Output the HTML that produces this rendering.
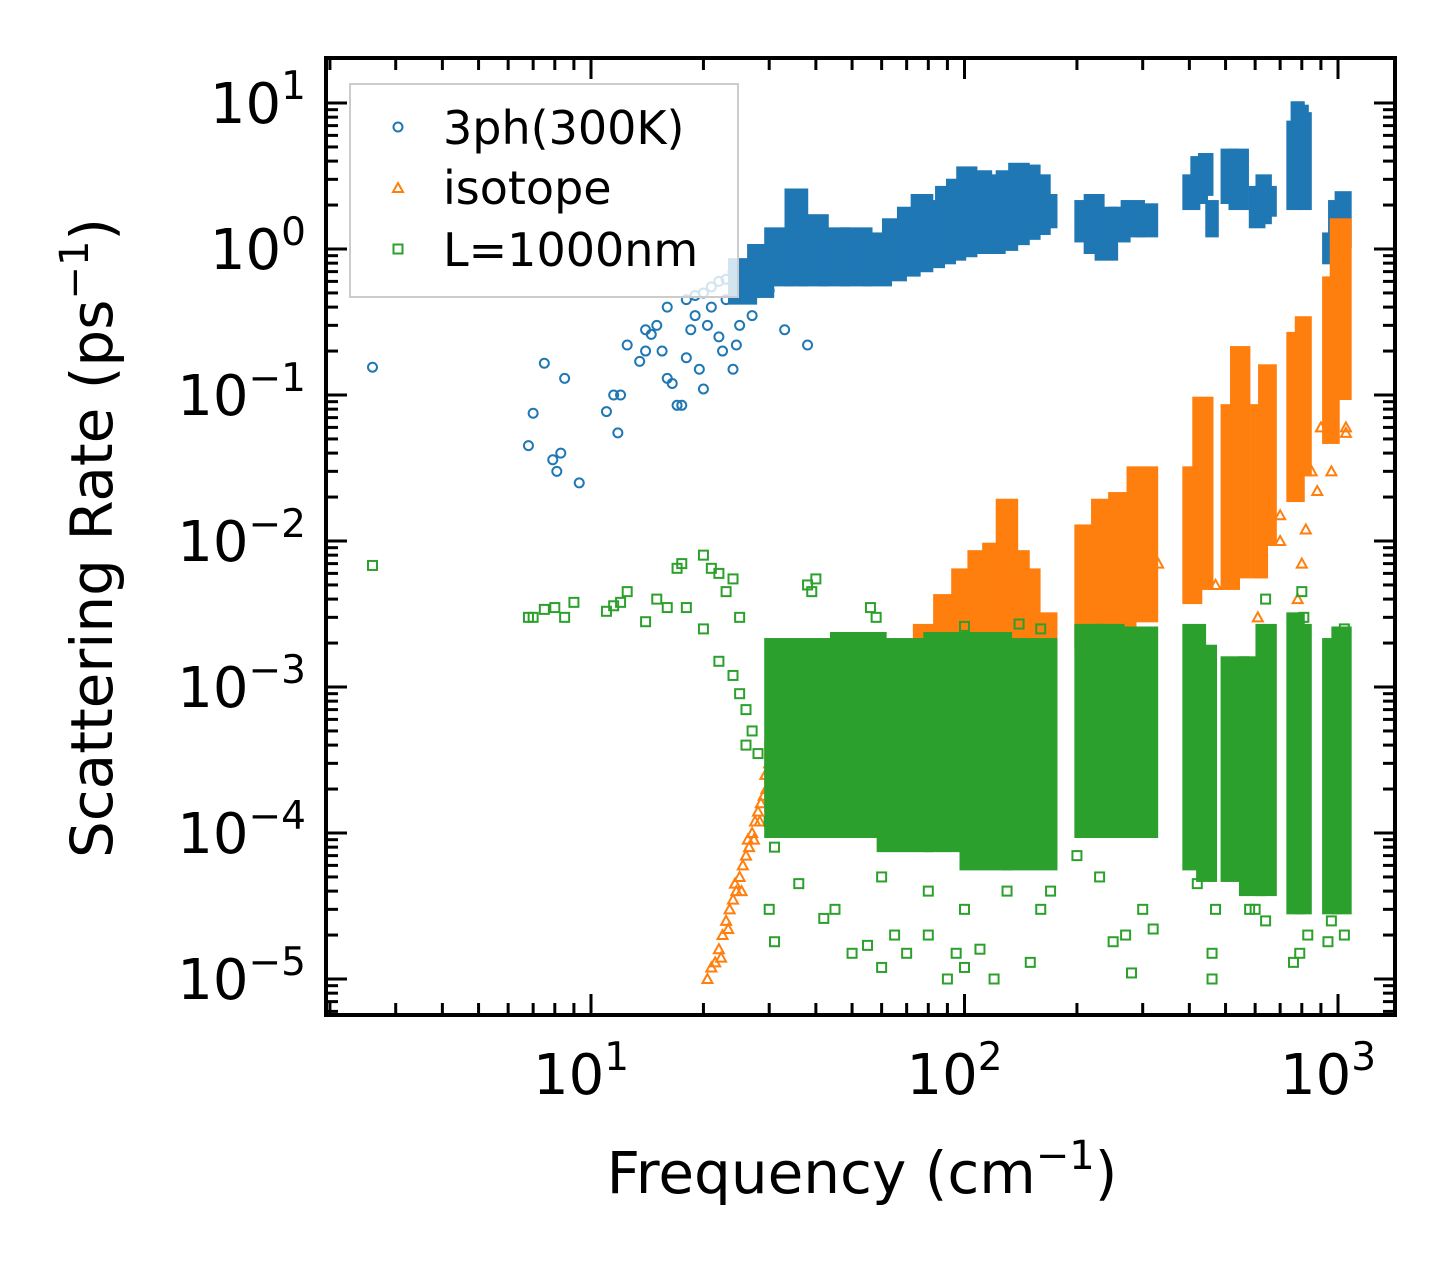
<!DOCTYPE html>
<html><head><meta charset="utf-8"><style>
body{margin:0;background:#fff}
svg text{font-family:"DejaVu Sans","Liberation Sans",sans-serif;fill:#000}
</style></head><body>
<svg id="chart" width="1455" height="1265" xmlns="http://www.w3.org/2000/svg" style="position:absolute;left:0;top:0">
<g id="marks"></g>
<g id="axes"></g>
</svg>
<script>
// ---- data (frequency cm^-1, rate ps^-1) ----
const blueBands=[[24,27,0.45,0.8],[27,30,0.5,1.0],[30,34,0.6,1.3],[34,37,0.6,2.4],[37,42,0.6,1.6],[42,48,0.6,1.3],[48,55,0.6,1.3],[55,62,0.6,1.2],[62,68,0.65,1.5],[68,74,0.7,1.8],[74,80,0.75,2.2],[80,86,0.8,2.0],[86,92,0.85,2.5],[92,98,0.9,2.8],[98,105,0.95,3.4],[105,115,1.0,3.2],[115,125,1.0,3.0],[125,135,1.05,3.2],[135,145,1.15,3.6],[145,155,1.25,3.5],[155,165,1.35,3.0],[165,172,1.5,2.2],
[203,215,1.2,2.0],[215,230,1.0,2.2],[230,250,0.9,1.8],[250,270,1.2,1.8],[270,295,1.3,2.0],[295,320,1.3,1.9],
[395,415,2.0,3.0],[415,435,2.2,4.0],[435,450,2.5,4.2],[455,465,1.3,2.0],[500,525,2.2,4.5],[525,560,2.0,4.5],[595,620,1.5,2.5],[620,645,1.6,3.0],[645,665,1.8,2.5],[750,770,2.0,7.0],[770,790,2.5,9.5],[790,810,2.3,9.0],[810,825,2.0,8.0],[935,970,0.85,1.2],[970,1010,1.0,2.0],[1010,1055,1.1,2.3]];
const orangeBands=[[30,35,0.00015,0.0004],[35,45,0.00015,0.0008],[45,55,0.00015,0.001],[55,65,0.0002,0.0012],[65,75,0.0002,0.0016],[75,85,0.0002,0.0025],[85,95,0.0002,0.004],[95,105,0.0002,0.006],[105,115,0.0002,0.008],[115,125,0.0002,0.009],[125,135,0.0002,0.018],[135,145,0.0002,0.008],[145,155,0.0002,0.006],[155,172,0.0002,0.003],
[203,225,0.002,0.012],[225,250,0.002,0.018],[250,280,0.002,0.02],[280,320,0.003,0.03],
[395,420,0.004,0.03],[420,450,0.005,0.09],[500,530,0.005,0.08],[530,565,0.006,0.2],[600,630,0.006,0.08],[630,665,0.01,0.15],[750,790,0.02,0.25],[790,825,0.03,0.32],[935,980,0.05,0.6],[980,1055,0.1,1.5]];
const orangeRamp=[[20.5,0.00001],[21,0.000012],[21.5,0.000013],[22,0.000016],[22.5,0.00002],[23,0.000025],[23.5,0.00003],[24,0.000035],[24.5,0.00004],[25,0.00005],[25.5,0.00006],[26,0.00007],[26.5,0.00008],[27,0.0001],[27.5,0.00012],[28,0.00014],[28.5,0.00016],[29,0.00018],[29.5,0.0002],[22.3,0.000014],[23.3,0.000022],[24.3,0.000045],[25.3,0.00004],[26.3,0.00009],[27.3,0.00009],[28.3,0.00012],[29.3,0.00025],[30,0.0003],[36,0.00013],[38,0.00015],[33,0.00025]];
const greenBands=[[30,45,0.0001,0.002],[45,60,0.0001,0.0022],[60,80,0.00008,0.002],[80,100,0.00008,0.0022],[100,130,0.00006,0.0022],[130,172,0.00006,0.002],
[203,230,0.0001,0.0025],[230,260,0.0001,0.0025],[260,320,0.0001,0.0024],[395,430,0.00006,0.0025],[430,460,0.00005,0.0018],[500,560,0.00005,0.0015],[560,620,0.00004,0.0015],[620,665,0.00004,0.0025],[750,790,0.00003,0.003],[790,825,0.00003,0.0025],[935,990,0.00003,0.002],[990,1055,0.00003,0.0024]];
const bluePts=[[2.6,0.155],[6.8,0.045],[7,0.075],[7.5,0.165],[7.9,0.036],[8.1,0.03],[8.3,0.04],[8.5,0.13],[9.3,0.025],[11,0.077],[11.5,0.1],[11.8,0.055],[12,0.1],[12.5,0.22],[13.5,0.17],[14,0.2],[14.5,0.26],[15,0.3],[15.5,0.2],[16,0.13],[16.5,0.12],[17,0.085],[17.5,0.085],[18,0.18],[18.5,0.28],[19,0.35],[19.5,0.15],[20,0.11],[20.5,0.3],[21,0.4],[22,0.25],[22.5,0.2],[23,0.45],[24,0.15],[24.5,0.22],[25,0.3],[26,0.55],[27,0.35],[30,0.52],[33,0.28],[38,0.22],[16,0.4],[18,0.45],[14,0.28],[20,0.5],[22,0.6],[24,0.7],[19,0.48],[21,0.55],[23,0.62]];
const orangePts=[[900,0.06],[950,0.1],[1050,0.06],[960,0.03],[880,0.022],[820,0.012],[780,0.025],[700,0.01],[620,0.006],[610,0.003],[780,0.004],[800,0.007],[470,0.005],[560,0.008],[330,0.007],[700,0.015],[850,0.03],[1050,0.055],[1040,0.1]];
const greenPts=[[2.6,0.0068],[6.8,0.003],[7,0.003],[7.5,0.0034],[8,0.0035],[8.5,0.003],[9,0.0038],[11,0.0033],[11.5,0.0036],[12,0.0038],[12.5,0.0045],[14,0.0028],[15,0.004],[16,0.0035],[17,0.0065],[17.5,0.007],[18,0.0035],[20,0.008],[21,0.0065],[22,0.006],[23,0.0045],[24,0.0055],[25,0.003],[20,0.0025],[22,0.0015],[24,0.0012],[25,0.0009],[26,0.0007],[27,0.0005],[26,0.0004],[28,0.00035],[30,0.00012],[31,0.00008],[30,0.00003],[31,0.000018],[36,0.000045],[42,0.000026],[45,0.00003],[50,0.000015],[55,0.000017],[60,0.000012],[65,0.00002],[70,0.000015],[80,0.00002],[90,0.00001],[95,0.000015],[100,0.000012],[110,0.000016],[120,0.00001],[150,0.000013],[60,0.00005],[80,0.00004],[100,0.00003],[130,0.00004],[160,0.00003],[170,0.00004],[200,0.00007],[230,0.00005],[250,0.000018],[270,0.00002],[280,0.000011],[300,0.00003],[320,0.000022],[420,0.000045],[460,0.000015],[460,0.00001],[470,0.00003],[580,0.00003],[600,0.00003],[640,0.000025],[760,0.000013],[790,0.000015],[830,0.00002],[940,0.000018],[960,0.000025],[1040,0.00002],[38,0.005],[39,0.0045],[40,0.0055],[56,0.0035],[58,0.003],[100,0.0026],[140,0.0027],[160,0.0025],[640,0.004],[800,0.0045],[810,0.003],[1040,0.0025]];
const xTickExp=[1,2,3];
const yTickExp=[1,0,-1,-2,-3,-4,-5];

const L=326,R=1395,T=58,B=1015;
function sx(f){return 591+(Math.log10(f)-1)*373.5;}
function sy(v){return 249-Math.log10(v)*146;}
const NS='http://www.w3.org/2000/svg';
const marks=document.getElementById('marks'),axes=document.getElementById('axes');
function mk(tag,at,parent){const e=document.createElementNS(NS,tag);for(const k in at)e.setAttribute(k,at[k]);parent.appendChild(e);return e;}
const C={b:'#1f77b4',o:'#ff7f0e',g:'#2ca02c'};
function bands(arr,col,name){arr.forEach(d=>{const x1=sx(d[0])-5,x2=sx(d[1])+5,y1=sy(d[3])-5,y2=sy(d[2])+5;
 const r=mk('rect',{x:x1,y:y1,width:x2-x1,height:y2-y1,fill:col},marks);
 
 });}
function circ(x,y,col){return mk('circle',{cx:x,cy:y,r:4.5,fill:'none',stroke:col,'stroke-width':2},marks);}
function tri(x,y,col){return mk('polygon',{points:`${x},${y-5} ${x-5},${y+4} ${x+5},${y+4}`,fill:'none',stroke:col,'stroke-width':2},marks);}
function sq(x,y,col){return mk('rect',{x:x-4.5,y:y-4.5,width:9,height:9,fill:'none',stroke:col,'stroke-width':2},marks);}
bands(blueBands,C.b,'3ph-band');
bluePts.forEach(d=>{const e=circ(sx(d[0]),sy(d[1]),C.b);
 
 });
bands(orangeBands,C.o,'isotope-band');
orangeRamp.concat(orangePts).forEach(d=>{const e=tri(sx(d[0]),sy(d[1]),C.o);
 
 });
bands(greenBands,C.g,'boundary-band');
greenPts.forEach(d=>{const e=sq(sx(d[0]),sy(d[1]),C.g);
 
 });

const fr=mk('rect',{x:L,y:T,width:R-L,height:B-T,fill:'none',stroke:'#000','stroke-width':4},axes);


for(let e=0;e<=3;e++){for(let m=1;m<10;m++){const f=m*Math.pow(10,e);const x=sx(f);if(x<L+2||x>R-2)continue;const len=m===1?21:12;
 mk('line',{x1:x,y1:B,x2:x,y2:B-len,stroke:'#000','stroke-width':3},axes);
 mk('line',{x1:x,y1:T,x2:x,y2:T+len,stroke:'#000','stroke-width':3},axes);}}
for(let e=-6;e<=1;e++){for(let m=1;m<10;m++){const v=m*Math.pow(10,e);const y=sy(v);if(y<T+2||y>B-2)continue;const len=m===1?21:12;
 mk('line',{x1:L,y1:y,x2:L+len,y2:y,stroke:'#000','stroke-width':3},axes);
 mk('line',{x1:R,y1:y,x2:R-len,y2:y,stroke:'#000','stroke-width':3},axes);}}
xTickExp.forEach(e=>{const t=mk('text',{x:sx(Math.pow(10,e))-10,y:1094,'font-size':56,'text-anchor':'middle'},axes);
 
 
 t.innerHTML=`10<tspan dy="-24" font-size="39">${e}</tspan>`;});
yTickExp.forEach(e=>{const t=mk('text',{x:306,y:sy(Math.pow(10,e))+20,'font-size':56,'text-anchor':'end'},axes);
 
 
 t.innerHTML=`10<tspan dy="-24" font-size="39">${e<0?'\u2212'+(-e):e}</tspan>`;});
</script>
<svg style="position:absolute;left:0;top:0" width="1455" height="1265">
<text x="862" y="1193" font-size="58" text-anchor="middle">Frequency (cm<tspan dy="-24" font-size="40">−1</tspan><tspan dy="24">)</tspan></text>
<text transform="translate(112,538) rotate(-90)" font-size="58" text-anchor="middle">Scattering Rate (ps<tspan dy="-24" font-size="40">−1</tspan><tspan dy="24">)</tspan></text>
<g>
<rect x="350" y="84" width="388" height="213" fill="#fff" fill-opacity="0.8" stroke="#ccc" stroke-width="2"/>
<circle cx="398" cy="127" r="4.5" fill="none" stroke="#1f77b4" stroke-width="2"/>
<text x="443" y="144" font-size="46">3ph(300K)</text>
<polygon points="398,183 393,192 403,192" fill="none" stroke="#ff7f0e" stroke-width="2"/>
<text x="443" y="204" font-size="46">isotope</text>
<rect x="393.5" y="244.5" width="9" height="9" fill="none" stroke="#2ca02c" stroke-width="2"/>
<text x="443" y="266" font-size="46">L=1000nm</text>
</g>
</svg>
</body></html>
